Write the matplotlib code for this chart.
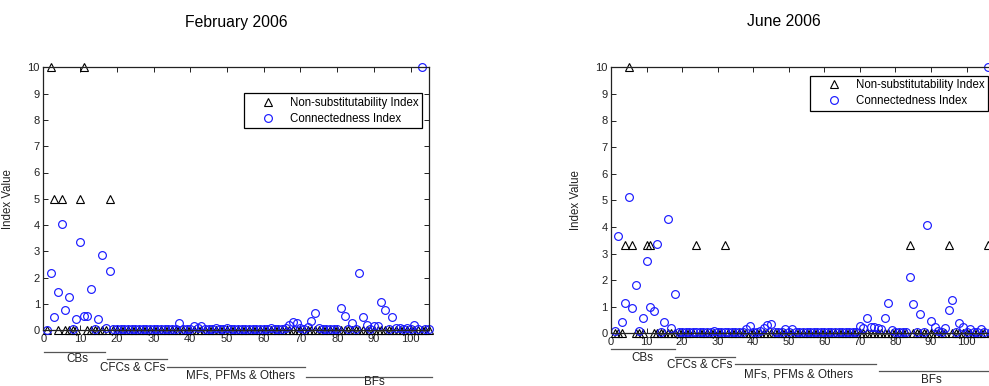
import matplotlib
matplotlib.use("Agg")
import matplotlib.pyplot as plt

plt.rcParams['font.family'] = ['Liberation Sans', 'DejaVu Sans']

W, H = 989, 386

# ---------------- data ----------------
feb_title = "February 2006"
jun_title = "June 2006"
legend_labels = ["Non-substitutability Index", "Connectedness Index"]
y_label = "Index Value"

feb_x = list(range(1, 106))
feb_nonsub = [
    0, 10, 5, 0, 5, 0, 0, 0, 0, 5,
    10, 0, 0, 0, 0, 0, 0, 5, 0, 0,
    0, 0, 0, 0, 0, 0, 0, 0, 0, 0,
    0, 0, 0, 0, 0, 0, 0, 0, 0, 0,
    0, 0, 0, 0, 0, 0, 0, 0, 0, 0,
    0, 0, 0, 0, 0, 0, 0, 0, 0, 0,
    0, 0, 0, 0, 0, 0, 0, 0, 0, 0,
    0, 0, 0, 0, 0, 0, 0, 0, 0, 0,
    0, 0, 0, 0, 0, 0, 0, 0, 0, 0,
    0, 0, 0, 0, 0, 0, 0, 0, 0, 0,
    0, 0, 0, 0, 0,
]
feb_conn = [
    0.02, 2.18, 0.51, 1.47, 4.06, 0.76, 1.25, 0.06, 0.42, 3.36,
    0.53, 0.53, 1.58, 0.04, 0.43, 2.86, 0.10, 2.26, 0.04, 0.05,
    0.04, 0.05, 0.04, 0.04, 0.05, 0.04, 0.05, 0.04, 0.04, 0.05,
    0.04, 0.05, 0.04, 0.05, 0.06, 0.05, 0.29, 0.06, 0.05, 0.06,
    0.15, 0.07, 0.15, 0.06, 0.05, 0.05, 0.07, 0.05, 0.05, 0.07,
    0.05, 0.04, 0.05, 0.05, 0.05, 0.06, 0.05, 0.04, 0.05, 0.05,
    0.05, 0.07, 0.05, 0.05, 0.06, 0.10, 0.20, 0.33, 0.27, 0.10,
    0.05, 0.12, 0.35, 0.67, 0.08, 0.05, 0.04, 0.05, 0.04, 0.05,
    0.84, 0.56, 0.05, 0.29, 0.05, 2.18, 0.50, 0.19, 0.06, 0.15,
    0.15, 1.06, 0.76, 0.06, 0.49, 0.08, 0.08, 0.05, 0.07, 0.05,
    0.19, 0.06, 10.0, 0.05, 0.04,
]

jun_x = list(range(1, 109))
jun_nonsub = [
    0, 0, 0, 3.33, 10, 3.33, 0, 0, 0, 3.33,
    3.33, 0, 0, 0, 0, 0, 0, 0, 0, 0,
    0, 0, 0, 3.33, 0, 0, 0, 0, 0, 0,
    0, 3.33, 0, 0, 0, 0, 0, 0, 0, 0,
    0, 0, 0, 0, 0, 0, 0, 0, 0, 0,
    0, 0, 0, 0, 0, 0, 0, 0, 0, 0,
    0, 0, 0, 0, 0, 0, 0, 0, 0, 0,
    0, 0, 0, 0, 0, 0, 0, 0, 0, 0,
    0, 0, 0, 3.33, 0, 0, 0, 0, 0, 0,
    0, 0, 0, 0, 3.33, 0, 0, 0, 0, 0,
    0, 0, 0, 0, 0, 3.33, 0, 0,
]
jun_conn = [
    0.10, 3.66, 0.44, 1.15, 5.14, 0.94, 1.82, 0.10, 0.56, 2.72,
    0.98, 0.84, 3.36, 0.06, 0.44, 4.30, 0.21, 1.48, 0.05, 0.05,
    0.05, 0.04, 0.05, 0.05, 0.04, 0.05, 0.05, 0.05, 0.08, 0.05,
    0.05, 0.04, 0.05, 0.05, 0.05, 0.04, 0.05, 0.15, 0.27, 0.06,
    0.05, 0.08, 0.21, 0.31, 0.35, 0.06, 0.05, 0.06, 0.15, 0.05,
    0.15, 0.05, 0.04, 0.05, 0.05, 0.05, 0.04, 0.05, 0.05, 0.05,
    0.04, 0.05, 0.05, 0.05, 0.05, 0.04, 0.05, 0.05, 0.05, 0.29,
    0.21, 0.59, 0.25, 0.25, 0.19, 0.15, 0.59, 1.13, 0.12, 0.05,
    0.05, 0.05, 0.05, 2.13, 1.09, 0.06, 0.71, 0.06, 4.07, 0.47,
    0.25, 0.08, 0.06, 0.21, 0.88, 1.25, 0.06, 0.40, 0.23, 0.06,
    0.15, 0.06, 0.05, 0.15, 0.05, 10.0, 0.05, 0.05,
]

group_names = ["CBs", "CFCs & CFs", "MFs, PFMs & Others", "BFs"]
feb_group_spans = [(0.25, 16.8), (17.3, 33.7), (33.7, 71.3), (71.5, 105.7)]
feb_group_label_x = [9.3, 24.4, 53.6, 90.0]
jun_group_spans = [(0.0, 17.9), (18.1, 35.0), (35.0, 74.6), (75.3, 108.0)]
jun_group_label_x = [8.9, 25.0, 52.7, 90.2]


def fx(px):
    return px / W


def fy(py):
    return 1 - py / H


fig = plt.figure(figsize=(W / 100, H / 100), dpi=100)

# left panel: x 43.4..429, y 67.3..330.3 ; right panel: x 611..994.9, y 67.3..333.3
ax1 = fig.add_axes([fx(43.4), fy(330.3), fx(429 - 43.4), (330.3 - 67.3) / H])
ax2 = fig.add_axes([fx(611), fy(333.3), fx(108 * 3.555), (333.3 - 67.3) / H])

blue = '#1a1aff'


def draw_panel(ax, x, nonsub, conn, xmax):
    ax.plot(x, nonsub, linestyle='none', marker='^', ms=6.2, mfc='none',
            mec='black', mew=0.8, clip_on=False, label=legend_labels[0])
    ax.plot(x, conn, linestyle='none', marker='o', ms=5.6, mfc='none',
            mec=blue, mew=0.85, clip_on=False, label=legend_labels[1])
    ax.set_xlim(0, xmax)
    ax.set_ylim(0, 10)
    ax.set_xticks(range(0, 101, 10))
    ax.set_yticks(range(0, 11))
    ax.tick_params(direction='in', top=True, right=True, length=3.5,
                   width=0.7, labelsize=8, pad=2.5, colors='#222222')
    for s in ax.spines.values():
        s.set_linewidth(0.9)
        s.set_color('#222222')
    ax.set_ylabel(y_label, fontsize=8.3, color='#222222')
    ax.yaxis.set_label_coords(-0.076, 0.5)


draw_panel(ax1, feb_x, feb_nonsub, feb_conn, 105)
draw_panel(ax2, jun_x, jun_nonsub, jun_conn, 108)

fig.text(fx(236), fy(22), feb_title, ha='center', va='center', fontsize=11.3)
fig.text(fx(784), fy(22), jun_title, ha='center', va='center', fontsize=11.3)

leg_kw = dict(loc='upper right', fontsize=8.3, frameon=True, fancybox=False,
              framealpha=1, edgecolor='black', borderpad=0.3,
              handlelength=3.6, handletextpad=0.1, labelspacing=0.35,
              borderaxespad=0, bbox_transform=fig.transFigure)
l1 = ax1.legend(bbox_to_anchor=(fx(421.7), fy(93.3)), **leg_kw)
l2 = ax2.legend(bbox_to_anchor=(fx(988.3), fy(76)), **leg_kw)
for lg in (l1, l2):
    lg.get_frame().set_linewidth(0.9)

# group brackets under the x axis
feb_line_y = [351.7, 358.7, 367.3, 376.7]
feb_text_y = [362.4, 371.0, 379.0, 384.6]
jun_line_y = [349.3, 357.3, 364.3, 371.0]
jun_text_y = [361.0, 367.7, 377.7, 383.4]


def draw_groups(ax, spans, label_x, line_y, text_y):
    tr = ax.get_xaxis_transform()
    inv = ax.transAxes.inverted()
    for (a, b), lx, ly, ty, name in zip(spans, label_x, line_y, text_y, group_names):
        # convert figure pixel row to axes fraction
        yl = inv.transform(fig.transFigure.transform((0, fy(ly))))[1]
        yt = inv.transform(fig.transFigure.transform((0, fy(ty))))[1]
        ax.plot([a, b], [yl, yl], color='#555555', lw=0.9, transform=tr,
                clip_on=False)
        ax.text(lx, yt, name, transform=tr, ha='center', va='baseline',
                fontsize=8.4, color='#222222', clip_on=False)


draw_groups(ax1, feb_group_spans, feb_group_label_x, feb_line_y, feb_text_y)
draw_groups(ax2, jun_group_spans, jun_group_label_x, jun_line_y, jun_text_y)

fig.savefig("out.png", dpi=100)
